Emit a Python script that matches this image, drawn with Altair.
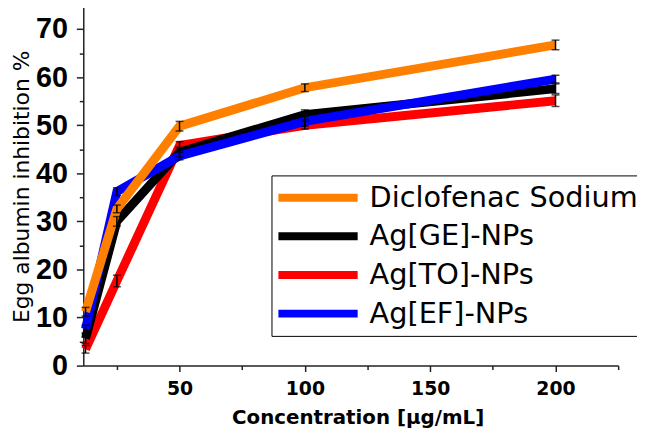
import altair as alt
import pandas as pd

conc = [12.5, 25, 50, 100, 200]
series_names = ["Diclofenac Sodium", "Ag[GE]-NPs", "Ag[TO]-NPs", "Ag[EF]-NPs"]
colors = ["#FF8000", "#000000", "#FF0000", "#0000FF"]
dic = [11.2, 32.6, 49.8, 57.8, 66.7]
ge = [5.6, 30.0, 44.4, 52.2, 57.6]
to = [3.4, 17.6, 45.8, 50.0, 55.1]
ef = [7.6, 36.2, 43.6, 50.8, 59.6]
dic_err = [0.9, 0.8, 1.0, 0.8, 1.0]
ge_err = [1.0, 1.0, 1.0, 1.0, 1.0]
to_err = [0.8, 1.2, 0.8, 0.8, 1.2]
ef_err = [0.8, 0.8, 0.8, 1.0, 0.8]

vals = [dic, ge, to, ef]
errs = [dic_err, ge_err, to_err, ef_err]
rows = []
for name, v, e in zip(series_names, vals, errs):
    for c, y, er in zip(conc, v, e):
        rows.append({"conc": c, "series": name, "val": y, "lo": y - er, "hi": y + er})
df = pd.DataFrame(rows)

xscale = alt.Scale(domain=[11.6, 225], nice=False, zero=False)
yscale = alt.Scale(domain=[0, 75], nice=False)
cscale = alt.Scale(domain=series_names, range=colors)

xaxis = alt.Axis(
    values=[25, 50, 75, 100, 125, 150, 175, 200, 225],
    labelExpr="datum.value % 50 === 0 ? datum.label : ''",
    tickSize={"condition": {"test": "datum.value % 50 === 0", "value": 6}, "value": 4},
    labelFont="DejaVu Sans", labelFontWeight="bold", labelFontSize=19, labelColor="black",
    labelPadding=8, labelOverlap=False, labelFlush=False,
    domainColor="#222222", domainWidth=1.5, tickColor="#222222", tickWidth=1.5,
    grid=False, title="Concentration [µg/mL]",
    titleFont="DejaVu Sans", titleFontWeight="bold", titleFontSize=20, titleColor="black",
    titleX=277, titleY=58, titleBaseline="alphabetic", titleAlign="center",
)
yaxis = alt.Axis(
    values=list(range(0, 80, 5)),
    labelExpr="datum.value % 10 === 0 ? datum.label : ''",
    tickSize={"condition": {"test": "datum.value % 10 === 0", "value": 7}, "value": 4},
    labelFont="Liberation Sans", labelFontWeight="bold", labelFontSize=29, labelColor="black",
    labelPadding=9, labelOverlap=False, labelFlush=False,
    domainColor="#222222", domainWidth=1.5, tickColor="#222222", tickWidth=1.5,
    grid=False, title="Egg albumin inhibition %",
    titleFont="DejaVu Sans", titleFontWeight="normal", titleFontSize=22, titleColor="black",
    titleX=-55, titleY=183, titleBaseline="alphabetic", titleAlign="center", titleAngle=-90,
)

legend = alt.Legend(
    title=None, orient="none", legendX=190, legendY=172,
    symbolType="stroke", symbolSize=6400, symbolStrokeWidth=8, clipHeight=39,
    labelFont="DejaVu Sans", labelFontSize=29, labelColor="black", labelOffset=8,
    labelLimit=0, rowPadding=0, padding=3,
    strokeColor="black", fillColor="white",
)

X = alt.X("conc:Q", scale=xscale, axis=xaxis)
base = alt.Chart(df)
draw_order = ["Ag[TO]-NPs", "Ag[GE]-NPs", "Ag[EF]-NPs", "Diclofenac Sodium"]
layers = []
for name in draw_order:
    layers.append(
        base.transform_filter(alt.datum.series == name).mark_line(strokeWidth=9).encode(
            x=X,
            y=alt.Y("val:Q", scale=yscale, axis=yaxis),
            color=alt.Color("series:N", scale=cscale, legend=legend, sort=series_names),
        )
    )

rule = base.mark_rule(color="black", strokeWidth=1.5).encode(
    x=X, y=alt.Y("lo:Q", scale=yscale, axis=yaxis), y2="hi:Q"
)
cap_lo = base.mark_tick(orient="horizontal", size=8, thickness=1.5, color="black").encode(
    x=X, y=alt.Y("lo:Q", scale=yscale, axis=yaxis)
)
cap_hi = base.mark_tick(orient="horizontal", size=8, thickness=1.5, color="black").encode(
    x=X, y=alt.Y("hi:Q", scale=yscale, axis=yaxis)
)

chart = alt.layer(*layers, rule, cap_lo, cap_hi).properties(
    width=540, height=364,
    autosize=alt.AutoSizeParams(type="none"),
    padding={"left": 76, "top": -5, "right": 19, "bottom": 63},
    background="white",
).configure_view(stroke=None)

chart.save("out.html", embed_options={"renderer": "svg", "actions": False})
